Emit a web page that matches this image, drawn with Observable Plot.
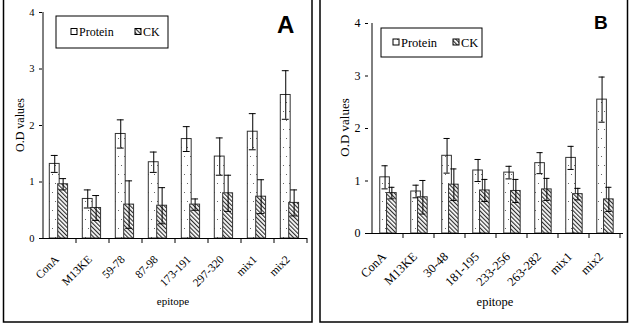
<!DOCTYPE html>
<html><head><meta charset="utf-8">
<script src="https://cdn.jsdelivr.net/npm/d3@7"></script>
<script src="https://cdn.jsdelivr.net/npm/@observablehq/plot@0.6"></script>
<style>
html,body{margin:0;padding:0;background:#fff}
body{width:631px;height:328px;overflow:hidden;position:relative;font-family:"Liberation Serif","Times New Roman","DejaVu Serif",serif}
.panel{position:absolute;top:0}
#overlay{position:absolute;left:0;top:0;pointer-events:none}
svg text{font-family:"Liberation Serif","Times New Roman","DejaVu Serif",serif}
svg text.sans{font-family:"Liberation Sans",Arial,sans-serif}
</style></head>
<body>
<svg width="0" height="0" style="position:absolute">
  <defs>
    <pattern id="dots" width="6" height="18" patternUnits="userSpaceOnUse">
      <rect width="6" height="18" fill="#fff"/>
      <rect x="1" y="3" width="1" height="1" fill="#666"/>
      <rect x="4" y="12" width="1" height="1" fill="#666"/>
    </pattern>
    <pattern id="hatch" width="3" height="3" patternUnits="userSpaceOnUse" patternTransform="rotate(-45)">
      <rect width="3" height="3" fill="#fff"/>
      <line x1="0.6" y1="0" x2="0.6" y2="3" stroke="#222" stroke-width="1.1"/>
    </pattern>
  </defs>
</svg>
<div id="pA" class="panel" style="left:0"></div>
<div id="pB" class="panel" style="left:315px"></div>
<svg id="overlay" width="631" height="328"></svg>
<script>
// ---------- data ----------
const categoriesA = ["ConA","M13KE","59-78","87-98","173-191","297-320","mix1","mix2"];
const proteinA    = [1.32, 0.70, 1.85, 1.35, 1.76, 1.45, 1.89, 2.54];
const proteinErrA = [0.15, 0.16, 0.25, 0.18, 0.22, 0.33, 0.32, 0.43];
const ckA         = [0.96, 0.54, 0.60, 0.58, 0.60, 0.80, 0.74, 0.63];
const ckErrA      = [0.10, 0.22, 0.42, 0.32, 0.10, 0.32, 0.30, 0.23];

const categoriesB = ["ConA","M13KE","30-48","181-195","233-256","263-282","mix1","mix2"];
const proteinB    = [1.07, 0.80, 1.48, 1.20, 1.16, 1.34, 1.44, 2.55];
const proteinErrB = [0.22, 0.12, 0.33, 0.21, 0.12, 0.20, 0.22, 0.43];
const ckB         = [0.77, 0.69, 0.93, 0.82, 0.81, 0.84, 0.75, 0.65];
const ckErrB      = [0.11, 0.32, 0.30, 0.21, 0.22, 0.21, 0.11, 0.23];

const yTicks = [0, 1, 2, 3, 4];
const seriesNames = ["Protein", "CK"];

const SERIF = '"Liberation Serif","Times New Roman","DejaVu Serif",serif';

function rowsOf(cats, p, pe, c, ce) {
  return cats.map((cat, i) => ({cat, protein: p[i], perr: pe[i], ck: c[i], cerr: ce[i]}));
}

function panel(cfg) {
  const rows = rowsOf(cfg.cats, cfg.p, cfg.pe, cfg.c, cfg.ce);
  const band = (cfg.width - cfg.ml - cfg.mr) / cfg.cats.length;
  const w = cfg.bw, cap = 3.5;
  const pL = cfg.pc - w / 2, pR = band - (cfg.pc + w / 2);
  const cL = cfg.cc - w / 2, cR = band - (cfg.cc + w / 2);
  const boundaryTicks = (index, scales) => {
    const x = scales.x, y = scales.y;
    const bwid = x.bandwidth ? x.bandwidth() : band;
    const x0 = x(cfg.cats[0]);
    const g = d3.create("svg:g").attr("stroke", "#000").attr("stroke-width", 1);
    g.append("line").attr("x1", x0).attr("x2", x0).attr("y1", y(0)).attr("y2", y(4));
    for (let i = 1; i <= cfg.cats.length; i++) {
      const xx = x0 + i * bwid;
      g.append("line").attr("x1", xx).attr("x2", xx).attr("y1", y(0)).attr("y2", y(0) + 5);
    }
    return g.node();
  };
  return Plot.plot({
    width: cfg.width, height: 328,
    marginLeft: cfg.ml, marginRight: cfg.mr, marginTop: cfg.mt, marginBottom: cfg.mb,
    style: {fontFamily: SERIF, background: "transparent", color: "#000", overflow: "visible"},
    x: {domain: cfg.cats, padding: 0, label: null},
    y: {domain: [0, 4], label: null},
    marks: [
      Plot.axisY({ticks: yTicks, tickSize: 3, tickPadding: 5, label: null, fontSize: cfg.yfs, tickFormat: d => String(d)}),
      Plot.axisX({tickSize: 0, tickRotate: -45, tickPadding: cfg.xpad, label: null, fontSize: cfg.xfs, dx: cfg.xdx}),
      Plot.barY(rows, {x: "cat", y: "protein", fill: "url(#dots)", stroke: "#333", strokeWidth: 1, insetLeft: pL, insetRight: pR}),
      Plot.barY(rows, {x: "cat", y: "ck", fill: "url(#hatch)", stroke: "#333", strokeWidth: 1, insetLeft: cL, insetRight: cR}),
      Plot.ruleX(rows, {x: "cat", y1: d => d.protein - d.perr, y2: d => d.protein + d.perr, dx: cfg.pc - band / 2, stroke: "#000"}),
      Plot.tickY(rows, {x: "cat", y: d => d.protein + d.perr, insetLeft: cfg.pc - cap, insetRight: band - cfg.pc - cap, stroke: "#000"}),
      Plot.tickY(rows, {x: "cat", y: d => d.protein - d.perr, insetLeft: cfg.pc - cap, insetRight: band - cfg.pc - cap, stroke: "#000"}),
      Plot.ruleX(rows, {x: "cat", y1: d => d.ck - d.cerr, y2: d => d.ck + d.cerr, dx: cfg.cc - band / 2, stroke: "#000"}),
      Plot.tickY(rows, {x: "cat", y: d => d.ck + d.cerr, insetLeft: cfg.cc - cap, insetRight: band - cfg.cc - cap, stroke: "#000"}),
      Plot.tickY(rows, {x: "cat", y: d => d.ck - d.cerr, insetLeft: cfg.cc - cap, insetRight: band - cfg.cc - cap, stroke: "#000"}),
      Plot.ruleY([0], {stroke: "#000"}),
      boundaryTicks
    ]
  });
}

document.getElementById("pA").append(panel({
  cats: categoriesA, p: proteinA, pe: proteinErrA, c: ckA, ce: ckErrA,
  width: 315, ml: 42, mr: 8, mt: 12, mb: 90,
  pc: 11.3, cc: 19.7, bw: 10, yfs: 10.5, xfs: 11.5, xpad: 19, xdx: -3
}));
document.getElementById("pB").append(panel({
  cats: categoriesB, p: proteinB, pe: proteinErrB, c: ckB, ce: ckErrB,
  width: 316, ml: 53, mr: 8, mt: 23, mb: 95,
  pc: 13, cc: 19.8, bw: 10.5, yfs: 12, xfs: 12.5, xpad: 21, xdx: -4
}));

// ---------- overlay: frames, titles, legends ----------
const ov = d3.select("#overlay");
const frames = [{x: 3.5, w: 308.5}, {x: 320, w: 307.5}];
frames.forEach(f => ov.append("rect").attr("x", f.x).attr("y", -5).attr("width", f.w).attr("height", 327)
  .attr("fill", "none").attr("stroke", "#000").attr("stroke-width", 1.5));

function txt(x, y, s, size, opts = {}) {
  const t = ov.append("text").attr("x", x).attr("y", y).text(s)
    .attr("font-size", size)
    .attr("text-anchor", opts.anchor || "middle").attr("fill", "#000");
  if (opts.sans) t.attr("class", "sans");
  if (opts.bold) t.attr("font-weight", "bold");
  if (opts.rotate) t.attr("transform", `rotate(-90 ${x} ${y})`);
  return t;
}
txt(277, 33, "A", 24, {sans: true, bold: true, anchor: "start"});
txt(594, 29, "B", 19, {sans: true, bold: true, anchor: "start"});
txt(23.5, 125, "O.D values", 12, {rotate: true});
txt(348.5, 127.5, "O.D values", 13, {rotate: true});
txt(173, 305, "epitope", 11);
txt(495, 306, "epitope", 12.5);

function legend(x, y, w, h, items, size) {
  ov.append("rect").attr("x", x).attr("y", y).attr("width", w).attr("height", h)
    .attr("fill", "#fff").attr("stroke", "#000").attr("stroke-width", 1);
  items.forEach(it => {
    ov.append("rect").attr("x", it.sx).attr("y", y + h / 2 - 3.5).attr("width", 6).attr("height", 6)
      .attr("fill", it.fill).attr("stroke", "#000").attr("stroke-width", 1);
    txt(it.sx + 8, y + h / 2 + size * 0.35, it.label, size, {anchor: "start"});
  });
}
legend(56, 16, 112, 32, [{sx: 71, label: seriesNames[0], fill: "url(#dots)"}, {sx: 135, label: seriesNames[1], fill: "url(#hatch)"}], 12);
legend(381, 28, 101, 29, [{sx: 393, label: seriesNames[0], fill: "url(#dots)"}, {sx: 453, label: seriesNames[1], fill: "url(#hatch)"}], 12.5);
</script>
</body></html>
